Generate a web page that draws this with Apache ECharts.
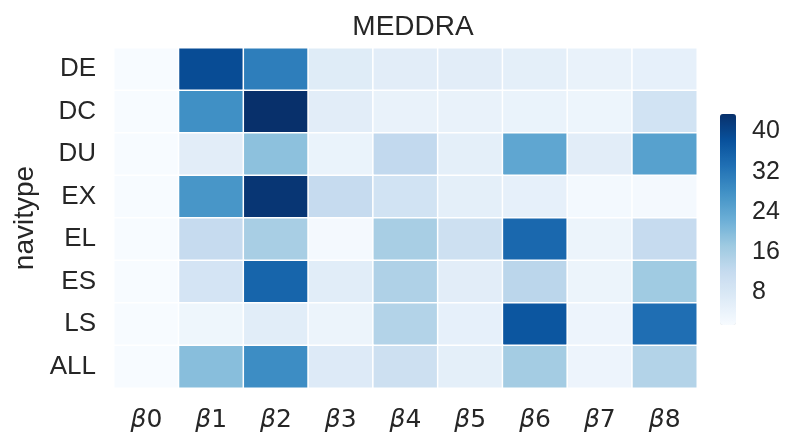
<!DOCTYPE html>
<html>
<head>
<meta charset="utf-8">
<script src="https://cdn.jsdelivr.net/npm/echarts@6/dist/echarts.min.js"></script>
<style>
  html, body { margin: 0; padding: 0; background: #fff; }
  #main { width: 799px; height: 448px; }
</style>
</head>
<body>
<div id="main"></div>
<script>
var betas = ['0', '1', '2', '3', '4', '5', '6', '7', '8'];
var navitypes = ['DE', 'DC', 'DU', 'EX', 'EL', 'ES', 'LS', 'ALL'];
var colorTicks = [8, 16, 24, 32, 40];

// one row per navitype, one value per beta
var rowDE  = [1.6, 39.0, 31.0, 6.5, 6.0, 6.0, 5.5, 4.5, 5.0];
var rowDC  = [1.6, 28.0, 43.5, 6.0, 4.5, 4.5, 4.2, 3.5, 9.5];
var rowDU  = [1.6, 6.0, 19.0, 4.2, 12.5, 5.5, 24.0, 6.0, 25.0];
var rowEX  = [1.6, 27.0, 42.5, 12.0, 9.5, 5.5, 5.0, 2.3, 2.2];
var rowEL  = [1.6, 12.0, 16.0, 2.2, 16.0, 10.5, 34.5, 3.8, 12.0];
var rowES  = [1.6, 9.0, 35.0, 6.2, 15.0, 6.0, 13.5, 3.8, 17.0];
var rowLS  = [1.6, 3.3, 6.2, 3.8, 14.5, 5.0, 37.5, 3.7, 33.5];
var rowALL = [1.6, 19.5, 28.5, 7.0, 10.5, 5.5, 16.5, 3.7, 14.5];
var rows = [rowDE, rowDC, rowDU, rowEX, rowEL, rowES, rowLS, rowALL];

var vmin = 1.5, vmax = 43.5;
var blues = ['#f7fbff', '#deebf7', '#c6dbef', '#9ecae1', '#6baed6',
             '#4292c6', '#2171b5', '#08519c', '#08306b'];

var cells = [];
rows.forEach(function (r, j) {
  r.forEach(function (v, i) { cells.push([i, j, v]); });
});

var txt = '#262626';
var chart = echarts.init(document.getElementById('main'));
chart.setOption({
  backgroundColor: '#fff',
  animation: false,
  title: {
    text: 'MEDDRA', left: 408, top: 8, textAlign: 'center',
    textStyle: { fontFamily: 'Liberation Sans', fontSize: 28, fontWeight: 'normal', color: txt }
  },
  grid: [
    { left: 114, top: 48, width: 583, height: 340 },
    { left: 720, top: 114, width: 16, height: 211 }
  ],
  xAxis: [{
    type: 'category', data: betas, gridIndex: 0,
    axisLine: { show: false }, axisTick: { show: false }, splitLine: { show: false },
    axisLabel: {
      margin: 20,
      formatter: function (v) { return '{b|β}{n|' + v + '}'; },
      rich: {
        b: { fontFamily: 'DejaVu Sans', fontStyle: 'italic', fontSize: 25, color: txt },
        n: { fontFamily: 'DejaVu Sans', fontSize: 25, color: txt }
      }
    }
  }, {
    type: 'value', gridIndex: 1, show: false
  }],
  yAxis: [{
    type: 'category', data: navitypes, inverse: true, gridIndex: 0,
    name: 'navitype', nameLocation: 'middle', nameGap: 73, nameRotate: 90,
    nameTextStyle: { fontFamily: 'Liberation Sans', fontSize: 28, color: txt },
    axisLine: { show: false }, axisTick: { show: false }, splitLine: { show: false },
    axisLabel: { margin: 18, fontFamily: 'Liberation Sans', fontSize: 26, color: txt }
  }, {
    type: 'value', gridIndex: 1, position: 'right', min: vmin, max: vmax,
    axisLine: { show: false }, splitLine: { show: false },
    axisTick: { show: true, customValues: colorTicks, length: 8, lineStyle: { color: txt, width: 1.5 } },
    axisLabel: { customValues: colorTicks, margin: 16, fontFamily: 'Liberation Sans', fontSize: 25, color: txt }
  }],
  visualMap: {
    type: 'continuous', min: vmin, max: vmax, seriesIndex: 0,
    calculable: false, show: true, left: 720, top: 114, padding: 0,
    itemWidth: 16, itemHeight: 211, text: null, showLabel: false,
    inRange: { color: blues }
  },
  series: [{
    type: 'heatmap', xAxisIndex: 0, yAxisIndex: 0, data: cells,
    itemStyle: { borderColor: '#fff', borderWidth: 1.5 },
    emphasis: { disabled: true }
  }]
});
</script>
</body>
</html>
